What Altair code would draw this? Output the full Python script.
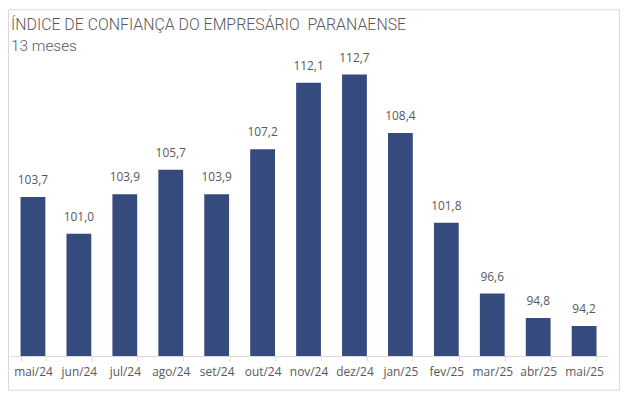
import altair as alt
import pandas as pd

meses = ["mai/24", "jun/24", "jul/24", "ago/24", "set/24", "out/24", "nov/24",
         "dez/24", "jan/25", "fev/25", "mar/25", "abr/25", "mai/25"]
valores = [103.7, 101.0, 103.9, 105.7, 103.9, 107.2, 112.1,
           112.7, 108.4, 101.8, 96.6, 94.8, 94.2]
titulo = "ÍNDICE DE CONFIANÇA DO EMPRESÁRIO\u00a0 PARANAENSE"
subtitulo = "13 meses"

df = pd.DataFrame({"mes": meses, "valor": valores})

W, H = 601, 301
GRAY = "#595959"
FONT = "Open Sans"
TFONT = "Roboto"

x = alt.X("mes:N", sort=meses,
          scale=alt.Scale(paddingInner=0.46, paddingOuter=0.23),
          axis=alt.Axis(title=None, labelAngle=0, labelColor=GRAY, labelFontSize=12,
                        labelFont=FONT, domainColor="#d9d9d9", tickColor="#d9d9d9",
                        tickBand="extent", tickSize=5, labelPadding=6))
y = alt.Y("valor:Q", scale=alt.Scale(domain=[92, 114], zero=False, nice=False),
          axis=None)

bars = alt.Chart(df).mark_bar(color="#354A7D", clip=True).encode(x=x, y=y)
labels = alt.Chart(df).transform_calculate(
    rot="replace(format(datum.valor, '.1f'), '.', ',')"
).mark_text(color=GRAY, fontSize=12, font=FONT, baseline="alphabetic", dy=-13).encode(
    x=alt.X("mes:N", sort=meses), y="valor:Q", text="rot:N")

t1 = alt.Chart(alt.Data(values=[{"t": titulo}])).mark_text(
    color=GRAY, fontSize=16, font=TFONT, fontWeight=300, align="left", baseline="alphabetic"
).encode(x=alt.value(1), y=alt.value(-27), text="t:N")
t2 = alt.Chart(alt.Data(values=[{"t": subtitulo}])).mark_text(
    color=GRAY, fontSize=15.5, font=TFONT, fontWeight=300, align="left", baseline="alphabetic"
).encode(x=alt.value(1), y=alt.value(-6), text="t:N")

frame = alt.Chart(alt.Data(values=[{"a": 1}])).mark_rect(
    fillOpacity=0, stroke="#d9d9d9", strokeWidth=1
).encode(x=alt.value(-1.5), x2=alt.value(W + 12.5), y=alt.value(-47.5), y2=alt.value(H + 34.5))

chart = alt.layer(bars, labels, t1, t2, frame).properties(
    width=W, height=H,
    autosize=alt.AutoSizeParams(type="none"),
    padding={"left": 2, "top": 48, "right": 13, "bottom": 35},
).configure_view(stroke=None)

chart.save("out.html", embed_options={"renderer": "svg", "actions": False})
